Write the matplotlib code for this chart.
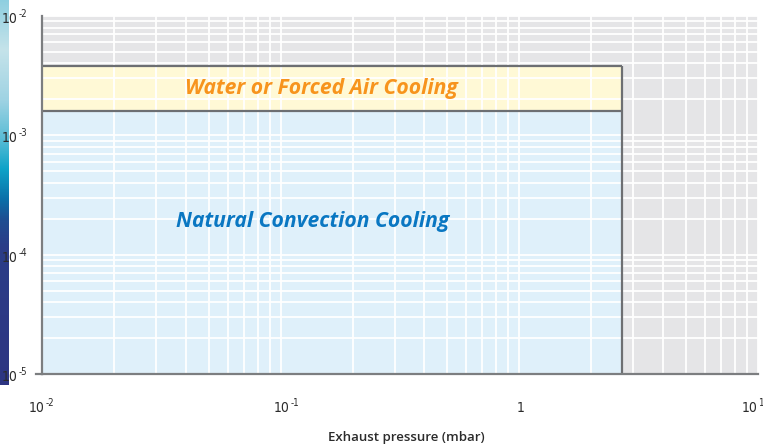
import numpy as np
import matplotlib
matplotlib.use("Agg")
import matplotlib.pyplot as plt
from matplotlib.colors import LinearSegmentedColormap
from matplotlib.lines import Line2D
from matplotlib import font_manager

installed = {f.name for f in font_manager.fontManager.ttflist}
if "Liberation Sans Narrow" in installed:
    tick_font = dict(family="Liberation Sans Narrow")
else:
    tick_font = dict(family="DejaVu Sans", stretch="condensed")

# Axis ranges (log scale)
x_range = [1e-2, 1e1]
y_range = [1e-5, 1e-2]

# Tick values and labels as (base, exponent)
x_ticks = [1e-2, 1e-1, 1, 1e1]
x_tick_labels = [("10", "-2"), ("10", "-1"), ("1", ""), ("10", "1")]
y_ticks = [1e-5, 1e-4, 1e-3, 1e-2]
y_tick_labels = [("10", "-5"), ("10", "-4"), ("10", "-3"), ("10", "-2")]

# Cooling regions
region_names = ["Natural Convection Cooling", "Water or Forced Air Cooling"]
region_x_max = [2.7, 2.7]
region_y_bottom = [1e-5, 1.61e-3]
region_y_top = [1.61e-3, 3.8e-3]
region_fill = ["#dff0fa", "#fff9d6"]
region_text_color = ["#0a77c2", "#f7941d"]
region_label_pos = [(0.136, 1.88e-4), (0.1475, 2.49e-3)]

W, H = 763, 444
fig = plt.figure(figsize=(W / 100, H / 100), dpi=100)
fig.patch.set_facecolor("white")

ax = fig.add_axes([42 / W, (H - 374) / H, 716 / W, 358 / H])
ax.set_xscale("log")
ax.set_yscale("log")
ax.set_xlim(*x_range)
ax.set_ylim(*y_range)
ax.set_facecolor("#e5e5e7")

for i in range(len(region_names)):
    ax.fill_between([x_range[0], region_x_max[i]], region_y_bottom[i], region_y_top[i],
                    color=region_fill[i], lw=0, zorder=0.2)
    ax.text(region_label_pos[i][0], region_label_pos[i][1], region_names[i],
            color=region_text_color[i], fontsize=15.2, fontweight="bold",
            fontstyle="italic", family="Open Sans", ha="center", va="center", zorder=3)

# Region outlines (top and right edges)
edge_kw = dict(color="#6d6f72", lw=1.6, zorder=2.5, solid_capstyle="butt")
ax.plot([x_range[0], region_x_max[1]], [region_y_top[1], region_y_top[1]], **edge_kw)
ax.plot([x_range[0], region_x_max[0]], [region_y_top[0], region_y_top[0]], **edge_kw)
ax.plot([region_x_max[1], region_x_max[1]], [y_range[0], region_y_top[1]], **edge_kw)

ax.set_axisbelow(True)
ax.grid(True, which="both", color="white", lw=1.3, zorder=0.5)

ax.set_xticks(x_ticks)
ax.set_yticks(y_ticks)
ax.set_xticklabels([])
ax.set_yticklabels([])
ax.tick_params(which="both", length=0)

label_color = "#2b2b2b"


def power_label(xy, coords, base, exp, dx, dy):
    """Draw base with a small raised exponent; (dx, dy) is the pixel offset
    of the right edge / vertical centre of the base text."""
    ax.annotate(base, xy=xy, xycoords=coords, xytext=(dx, dy),
                textcoords="offset pixels", ha="right", va="center",
                fontsize=10, color=label_color, annotation_clip=False, **tick_font)
    if exp:
        ax.annotate(exp, xy=xy, xycoords=coords, xytext=(dx + 0.5, dy + 5),
                    textcoords="offset pixels", ha="left", va="center",
                    fontsize=7, color=label_color, annotation_clip=False, **tick_font)


for val, (base, exp) in zip(y_ticks, y_tick_labels):
    power_label((0, val), ("axes fraction", "data"), base, exp, -24, -3)

x_label_dx = [3, 9, 5, 0]
for val, (base, exp), dx in zip(x_ticks, x_tick_labels, x_label_dx):
    power_label((val, 0), ("data", "axes fraction"), base, exp, dx, -34)

for s in ["top", "right"]:
    ax.spines[s].set_visible(False)
for s in ["left", "bottom"]:
    ax.spines[s].set_color("#7c7e80")
    ax.spines[s].set_linewidth(1.6)
    ax.spines[s].set_zorder(3)

# Short extension of the bottom axis line to the left
fig.add_artist(Line2D([36 / W, 42 / W], [(H - 374) / H] * 2, color="#7c7e80", lw=1.6))

fig.text(406 / W, 1 - 437 / H, "Exhaust pressure (mbar)", fontsize=9.5,
         fontweight="semibold", family="Open Sans", color=label_color,
         ha="center", va="center")

# Vertical colour strip on the left edge
cax = fig.add_axes([0, (H - 385) / H, 9 / W, 385 / H], zorder=-1)
strip = LinearSegmentedColormap.from_list("strip", [
    (0.00, "#2e3582"), (0.36, "#2b3d88"), (0.43, "#1e4f92"), (0.48, "#0b6fa8"),
    (0.56, "#0ea3c8"), (0.64, "#5bbdd6"), (0.74, "#9fd3e3"), (0.87, "#c5e3ea"),
    (1.00, "#8ecfe0")])
grad = np.linspace(0, 1, 256).reshape(-1, 1)
cax.imshow(grad, aspect="auto", cmap=strip, origin="lower", extent=[0, 1, 0, 1])
cax.set_axis_off()

fig.savefig("out.png", dpi=100)
